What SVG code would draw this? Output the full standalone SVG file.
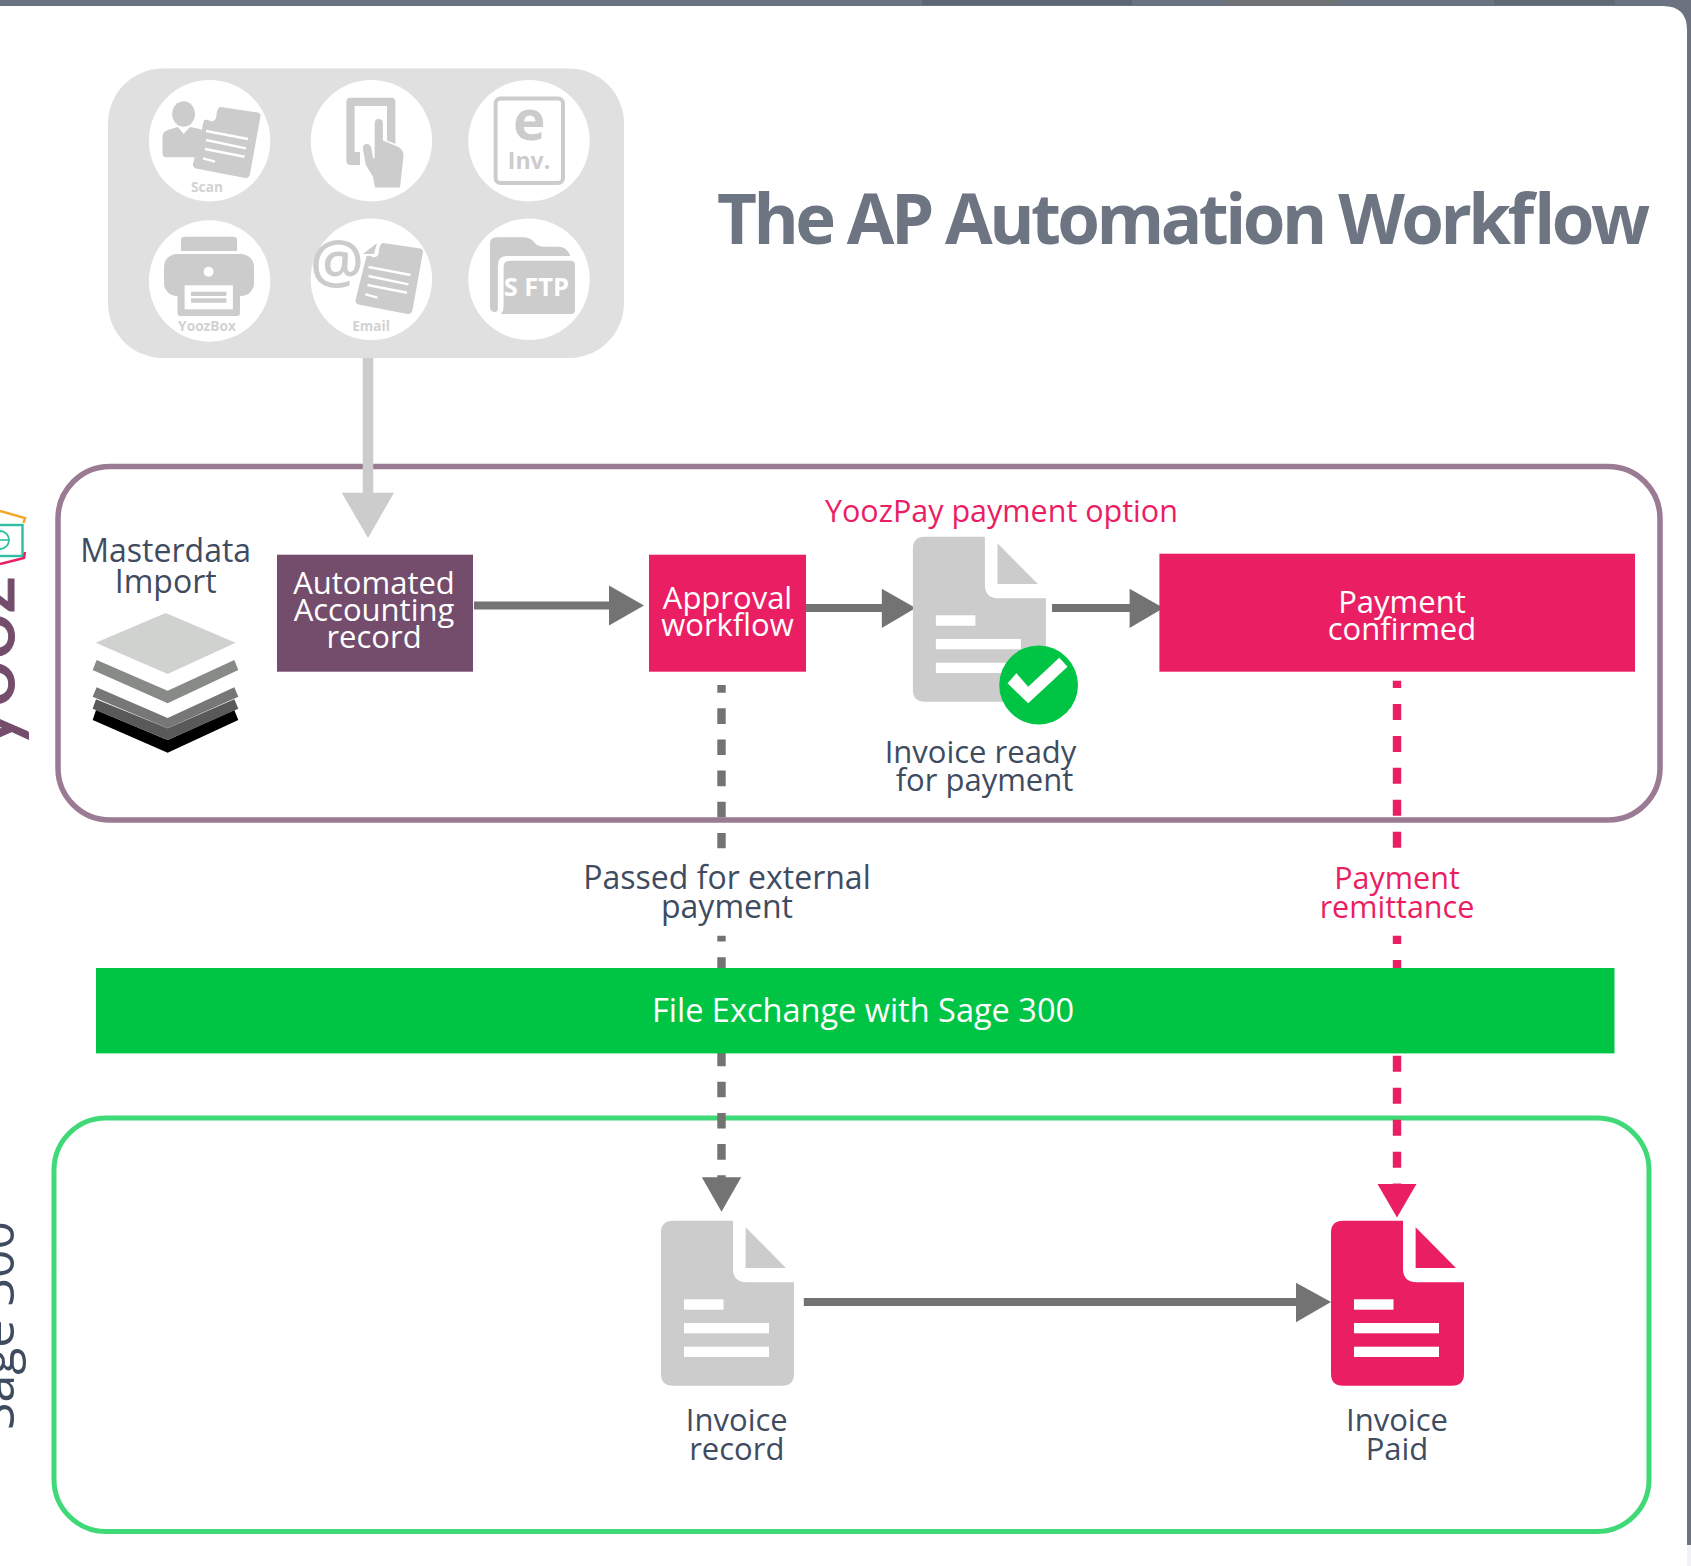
<svg xmlns="http://www.w3.org/2000/svg" xmlns:xlink="http://www.w3.org/1999/xlink" width="1691" height="1566" viewBox="0 0 1691 1566">
<style>
text{font-family:"Open Sans","Noto Sans",sans-serif;text-anchor:middle}
.t{font-size:32px;fill:#3f4c5f}
.t2{font-size:31px;fill:#3f4c5f}
.p{font-size:30.5px;fill:#ea1e63}
.w{font-size:31px;fill:#fff}
.ico{fill:#ccc}
.icot{fill:#d2d2d2;font-size:13.7px;font-weight:700}
.wl{stroke:#fff;stroke-width:2.4;fill:none}
.w0{fill:#fff}
.dg{stroke:#737373;stroke-width:8.4;fill:none;stroke-dasharray:15.6 15.55}
.dp{stroke:#ea1e63;stroke-width:8.4;fill:none;stroke-dasharray:16 15.95}
.sg{stroke:#737373;stroke-width:8;fill:none}
</style>
<defs>
<g id="doc">
<path d="M12,0H72V48Q72,61.6 86,61.6H133V153Q133,165 121,165H12Q0,165 0,153V12Q0,0 12,0Z"/>
<path d="M84.6,6.6L125,47.3H84.6Z"/>
<rect class="w0" x="23" y="78.6" width="39.5" height="10.4"/>
<rect class="w0" x="23" y="102.3" width="85" height="10.3"/>
<rect class="w0" x="23" y="126" width="85" height="10.3"/>
</g>
<g id="tilt">
<path class="ico" d="M220.4,107L258,112.5Q261,113.5 260.5,116L250,174Q249,178.5 245,178L196,168.5Q192.5,167.5 193,164L204,120Q208,119 210,121Q214,122 216,118Q217,107 220.4,107Z"/>
<path class="wl" d="M206,131L248,139M206,140L246,148.3M205,149L244.6,156.7M203,158.3L215,161.7"/>
</g>
</defs>
<g id="frame">
<rect width="1691" height="1566" fill="#fff"/>
<rect x="1687" y="1545" width="4" height="21" fill="#f1f2f5"/>
<path d="M0,0H1691V1545H1687V30Q1687,6 1663,6H0Z" fill="#6b7280"/>
<rect x="922" y="0" width="210" height="5" fill="#5e6673"/>
<rect x="1224" y="0" width="113" height="5" fill="#6f7373"/>
<rect x="1494" y="0" width="121" height="5" fill="#5f6a74"/>
</g>
<g id="side-labels">
<text transform="translate(14,750) rotate(-90)" stroke="#744c6c" stroke-width="1" style="font-family:Lato,'Open Sans',sans-serif;font-size:84px;text-anchor:start" fill="#744c6c">yooz</text>
<path d="M0,511L25,518L23.5,523" fill="none" stroke="#f5a623" stroke-width="2.4"/>
<rect x="-20" y="525" width="42.5" height="31" fill="none" stroke="#2ebfa0" stroke-width="2.4"/>
<circle cx="0" cy="540" r="9" fill="none" stroke="#2ebfa0" stroke-width="1.8"/>
<path d="M0,540H9" stroke="#2ebfa0" stroke-width="1.6"/>
<path d="M0,564L24,558L25,552" fill="none" stroke="#ea1e63" stroke-width="2.4"/>
<text transform="translate(14,1430) rotate(-90)" style="font-size:50px;text-anchor:start" fill="#3f4c5f">Sage 300</text>
</g>
<g id="panels">
<rect x="58" y="466.5" width="1602" height="353.5" rx="52" fill="none" stroke="#9b7a94" stroke-width="5.5"/>
<rect x="54" y="1118" width="1595" height="413.5" rx="52" fill="none" stroke="#40d977" stroke-width="5"/>
</g>
<g id="sources">
<rect x="108" y="68.5" width="516" height="289.5" rx="55" fill="#e0e0e0"/>
<g fill="#fff">
<circle cx="209.6" cy="140.7" r="60.7"/><circle cx="371.4" cy="140.7" r="60.7"/><circle cx="529" cy="140.7" r="60.7"/>
<circle cx="209.6" cy="281" r="60.7"/><circle cx="371.4" cy="279.3" r="60.7"/><circle cx="529" cy="279.3" r="60.7"/>
</g>
<g id="icon-scan">
<ellipse class="ico" cx="183.6" cy="114" rx="11.4" ry="12.7"/>
<path class="ico" d="M171,129L178,127L183.6,134L190,127L200,129Q204,131 205,135V157.3H166Q162.5,157.3 162.5,153V136Q162.5,131 171,129Z"/>
<use xlink:href="#tilt" href="#tilt"/>
<text class="icot" x="207" y="191.7">Scan</text>
</g>
<g id="icon-tablet">
<path class="ico" fill-rule="evenodd" d="M350.4,97.7H391.4Q395.4,97.7 395.4,101.7V150H387V106H354.6V152H360V165H350.4Q346.4,165 346.4,161V101.7Q346.4,97.7 350.4,97.7Z"/>
<path class="ico" stroke="#fff" stroke-width="1.5" d="M373.9,123.3Q374,118.3 378.6,118.3Q383.6,118.3 383.6,123.3V140L396,145Q404.3,148 404.3,155L400.7,188.3H374.6L372.1,176.7L365,165L362.1,148.3Q362.5,143.3 366.8,143.3Q371,143.3 372.1,148.3L373.9,158.3Z"/>
</g>
<g id="icon-einv">
<rect x="495.6" y="98.5" width="67.4" height="84.5" rx="5" fill="none" stroke="#ccc" stroke-width="4"/>
<text class="ico" x="529.3" y="140" style="font-size:55px;font-weight:700">e</text>
<text class="ico" x="529" y="169" style="font-size:23px;font-weight:700">Inv.</text>
</g>
<g id="icon-yoozbox">
<path class="ico" d="M181,251V240Q181,236.7 185,236.7H233Q237,236.7 237,240V251Z"/>
<rect class="ico" x="164" y="254" width="90" height="42" rx="13"/>
<circle class="w0" cx="208.6" cy="271.7" r="5"/>
<rect class="ico" x="177.5" y="283" width="62.5" height="33" rx="3"/>
<rect class="w0" x="184.6" y="285.3" width="48.3" height="24"/>
<rect class="ico" x="191" y="291.7" width="35.4" height="4.3"/>
<rect class="ico" x="191" y="298.3" width="35.4" height="4.4"/>
<text class="icot" x="207" y="330.7">YoozBox</text>
</g>
<g id="icon-email">
<text class="ico" x="337" y="283" style="font-size:60px;font-weight:600">@</text>
<g transform="translate(162.5,136)"><use xlink:href="#tilt" href="#tilt"/></g>
<path class="ico" d="M363,254L377,243L374,254Z"/>
<text class="icot" x="371" y="330.7">Email</text>
</g>
<g id="icon-sftp">
<path class="ico" d="M490,243.3Q490,237.3 497,237.3H524Q531,237.3 535,243.3Q538,246.7 544,246.7H558Q567,246.7 570.4,256H506Q497.9,256 497.9,266.7V308.3Q497.9,312.7 494,311.7Q490,311.7 490,306.7Z"/>
<path class="ico" d="M510,260.7H571Q575,260.7 575,265V310Q575,314 571,314H500.7Q503.6,312 503.6,305V267Q503.6,260.7 510,260.7Z"/>
<text x="536.4" y="296" fill="#fff" style="font-size:25.5px;font-weight:700">S FTP</text>
</g>
</g>
<g id="node-masterdata">
<text class="t" x="165.7" y="562">Masterdata</text>
<text class="t" x="165.7" y="592.7">Import</text>
<g transform="translate(0,480) scale(.3333)">
<path d="M278,720L288,690L503,780L703,690L715,720L503,818Z" fill="#000"/>
<path d="M278,686L288,658L503,745L703,658L715,686L503,780Z" fill="#595959"/>
<path d="M278,650L290,622L503,714L703,622L715,650L503,745Z" fill="#777"/>
<path d="M278,570L290,540L503,632L703,540L715,570L503,670Z" fill="#888a88"/>
<path d="M287,488L497,399L707,488L503,582Z" fill="#d0d2d0"/>
</g>
</g>
<g id="connectors">
<path d="M368,358V495" stroke="#ccc" stroke-width="10.5" fill="none"/>
<path d="M341.7,492.7H394L368,538Z" fill="#ccc"/>
<path class="sg" d="M474,605.5H612"/><path d="M609,585.6L644,605.5L609,625.5Z" fill="#737373"/>
<path class="sg" d="M804,608H885"/><path d="M881.8,588.7L915.7,608L881.8,628Z" fill="#737373"/>
<path class="sg" d="M1052,608H1133"/><path d="M1129.6,588.7L1163.6,608L1129.6,628Z" fill="#737373"/>
<path class="sg" d="M803.8,1302H1300"/><path d="M1296,1282.7L1331,1302L1296,1322.3Z" fill="#737373"/>
<path class="dg" d="M721.5,685V848.3" stroke-dashoffset="7.85"/>
<path class="dg" d="M721.5,935.7V1179" stroke-dashoffset="9.7"/>
<path d="M701.8,1177.3H741.2L721.5,1211.7Z" fill="#737373"/>
<path class="dp" d="M1397,680.7V848" stroke-dashoffset="8.7"/>
<path class="dp" d="M1397,935.7V1186" stroke-dashoffset="7.7"/>
<path d="M1377.5,1184H1416.5L1397,1217.5Z" fill="#ea1e63"/>
</g>
<g id="node-automated">
<rect x="277" y="554.7" width="196" height="117" fill="#744c6c"/>
<text class="w" x="374" y="594">Automated</text>
<text class="w" x="374" y="621.3">Accounting</text>
<text class="w" x="374" y="648.2">record</text>
</g>
<g id="node-approval">
<rect x="649" y="554.7" width="157" height="117" fill="#ea1e63"/>
<text class="w" x="727.5" y="609">Approval</text>
<text class="w" x="727.5" y="636.3">workflow</text>
</g>
<g id="node-ready">
<text class="p" x="1001.4" y="522.2">YoozPay payment option</text>
<use xlink:href="#doc" href="#doc" x="912.9" y="536.7" fill="#ccc"/>
<circle cx="1038.6" cy="685" r="39.4" fill="#00c544"/>
<path class="w0" d="M1007.5,683.3L1016.4,673.3L1028.2,686.7L1059.3,657.7L1067.5,666.7L1028.2,703.3Z"/>
<text class="t2" x="980.5" y="763">Invoice ready</text>
<text class="t2" x="984.5" y="791.2">for payment</text>
</g>
<g id="node-confirmed">
<rect x="1159.4" y="553.7" width="475.6" height="118" fill="#ea1e63"/>
<text class="w" x="1402" y="612.6">Payment</text>
<text class="w" x="1402" y="639.6">confirmed</text>
</g>
<g id="label-external">
<text class="t" x="727" y="889">Passed for external</text>
<text class="t" x="727" y="918">payment</text>
</g>
<g id="label-remittance">
<text class="p" x="1397" y="889">Payment</text>
<text class="p" x="1397" y="918">remittance</text>
</g>
<g id="node-exchange">
<rect x="96" y="968" width="1518.5" height="85.4" fill="#00c544"/>
<text x="863" y="1022" fill="#fff" style="font-size:32.5px">File Exchange with Sage 300</text>
</g>
<g id="node-invoice-record">
<use xlink:href="#doc" href="#doc" x="661" y="1220.7" fill="#ccc"/>
<text class="t2" x="736.8" y="1431">Invoice</text>
<text class="t2" x="736.8" y="1460">record</text>
</g>
<g id="node-invoice-paid">
<use xlink:href="#doc" href="#doc" x="1331" y="1220.7" fill="#ea1e63"/>
<text class="t2" x="1397" y="1431">Invoice</text>
<text class="t2" x="1397" y="1460">Paid</text>
</g>
<g id="title">
<text x="1183.5" y="244.3" fill="#6e7582" textLength="933" lengthAdjust="spacing" style="font-size:69px;font-weight:700">The AP Automation Workflow</text>
</g>
</svg>
